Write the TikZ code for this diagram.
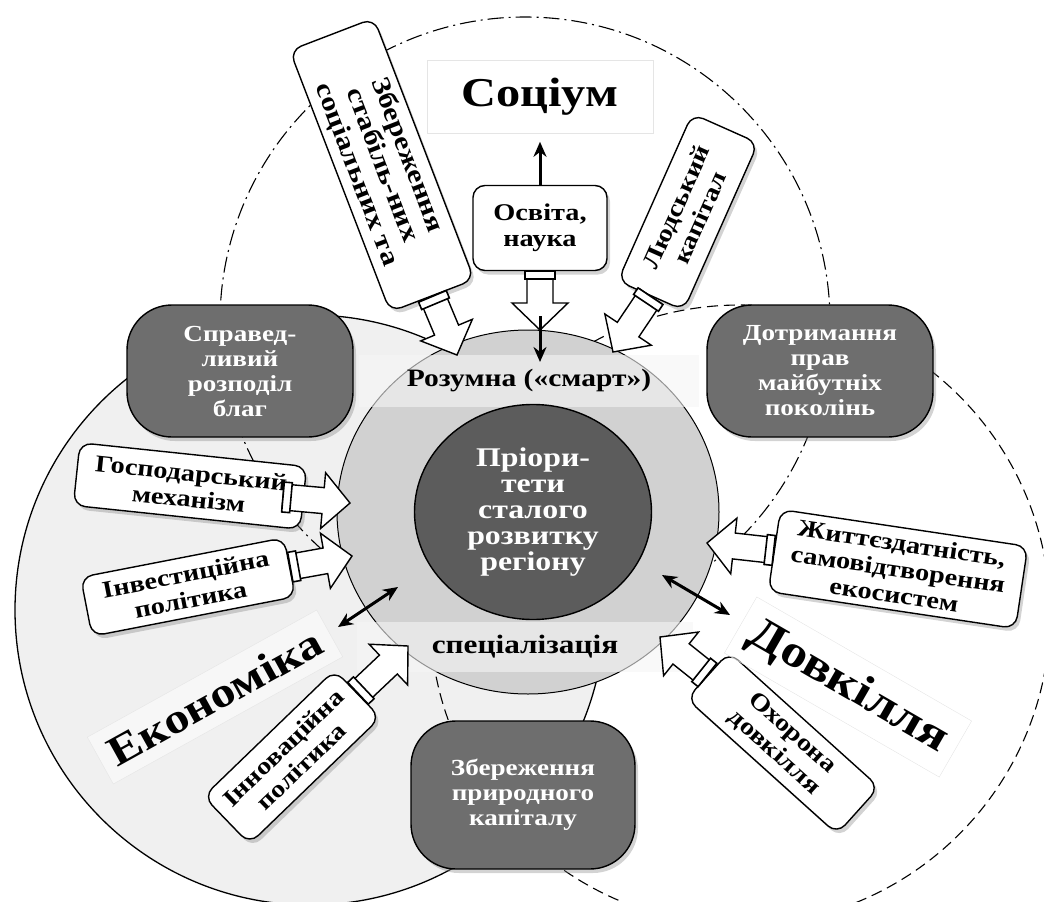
\documentclass[tikz,border=0pt]{standalone}
\usepackage{fontspec}
\setmainfont{Liberation Serif}[FakeStretch=1.18]
\usetikzlibrary{calc, arrows.meta, shadows, positioning, shapes.geometric}

\definecolor{econgray}{gray}{0.94}
\definecolor{smartgray}{gray}{0.82}
\definecolor{coregray}{gray}{0.36}
\definecolor{boxgray}{gray}{0.43}

% hollow block arrow from #1 to #2, with a cap band at its tail
\newcommand{\hollowarrow}[2]{%
  \path ($(#2)!27pt!(#1)$) coordinate (hb) ($(#1)!8pt!(#2)$) coordinate (bt);
  \draw[hollow] ($(#1)!13pt!90:(#2)$) -- ($(hb)!13pt!90:(#2)$) -- ($(hb)!28pt!90:(#2)$) -- (#2)
    -- ($(hb)!28pt!-90:(#2)$) -- ($(hb)!13pt!-90:(#2)$) -- ($(#1)!13pt!-90:(#2)$) -- cycle;
  \draw[capband] ($(#1)!15pt!90:(#2)$) -- ($(bt)!15pt!90:(#2)$) -- ($(bt)!15pt!-90:(#2)$)
    -- ($(#1)!15pt!-90:(#2)$) -- cycle;
}

\begin{document}
\begin{tikzpicture}[x=1pt, y=-1pt, >={Stealth[length=15pt, width=13pt]},
    every node/.style={font=\bfseries},
    darkbox/.style={draw, line width=1.4pt, fill=boxgray, text=white, rounded corners=45pt,
      align=center, minimum width=226pt, minimum height=132pt,
      drop shadow={opacity=0.35, shadow xshift=3pt, shadow yshift=-4pt},
      font=\fontsize{23}{25}\selectfont\bfseries},
    whitebox/.style={draw, line width=1.4pt, fill=white, rounded corners=12pt, align=center,
      inner sep=2pt, drop shadow={opacity=0.35, shadow xshift=3pt, shadow yshift=-4pt},
      font=\fontsize{24}{26}\selectfont\bfseries},
    band/.style={fill=gray!8, fill opacity=0.6, text opacity=1, inner sep=0pt},
    region/.style={draw=gray!20, fill=white, fill opacity=0.5, text opacity=1, inner sep=12pt},
    hollow/.style={draw, line width=1.4pt, fill=white, line join=miter},
    capband/.style={draw, line width=1.6pt, fill=white},
    pointer/.style={line width=3pt}]
    \useasboundingbox (0,0) rectangle (1044,902);

    % three spheres
    \draw[line width=1.3pt, fill=econgray] (310,610) circle[radius=295];
    \draw[line width=1.1pt, dash pattern=on 16pt off 5pt on 2pt off 5pt] (525,322) circle[radius=305];
    \draw[line width=1.1pt, dash pattern=on 11pt off 6pt] (740,615) circle[radius=310];

    % smart specialisation and its core
    \node[ellipse, draw, line width=1pt, fill=smartgray, minimum width=382pt, minimum height=364pt]
      (smart) at (528,512) {};
    \node[band, minimum width=340pt, minimum height=52pt, font=\fontsize{25}{25}\selectfont\bfseries]
      (smarttop) at (529,381) {Розумна («смарт»)};
    \node[band, minimum width=336pt, minimum height=50pt, font=\fontsize{26.5}{26.5}\selectfont\bfseries]
      (smartbot) at (525,647) {спеціалізація};
    \node[ellipse, draw, line width=1.4pt, fill=coregray, text=white, minimum width=237pt,
      minimum height=215pt, inner sep=0pt, align=center, font=\fontsize{27}{26}\selectfont\bfseries]
      (core) at (533,512) {Пріори-\\тети\\сталого\\розвитку\\регіону};

    % dark goal boxes
    \node[darkbox] (fair) at (240,371) {Справед-\\ливий\\розподіл\\благ};
    \node[darkbox] (future) at (820,371) {Дотримання\\прав\\майбутніх\\поколінь};
    \node[darkbox, minimum width=224pt, minimum height=148pt] (natcap) at (523,795)
      {Збереження\\природного\\капіталу};

    % factor boxes
    \node[whitebox, minimum width=134pt, minimum height=85pt] (osvita) at (540,228) {Освіта,\\наука};
    \node[whitebox, rotate=-69, minimum width=280pt, minimum height=90pt,
      font=\fontsize{26}{27}\selectfont\bfseries] (stab) at (382,165)
      {Збереження\\стабіль-них\\соціальних та};
    \node[whitebox, rotate=66, minimum width=183pt, minimum height=72pt] (human) at (688,212)
      {Людський\\капітал};
    \node[whitebox, rotate=-6, minimum width=228pt, minimum height=63pt] (mech) at (190,486)
      {Господарський\\механізм};
    \node[whitebox, rotate=11, minimum width=207pt, minimum height=60pt] (invest) at (188,587)
      {Інвестиційна\\політика};
    \node[whitebox, rotate=44, minimum width=182pt, minimum height=66pt] (innov) at (292,757)
      {Інноваційна\\політика};
    \node[whitebox, rotate=-8.5, minimum width=250pt, minimum height=83pt] (viab) at (898,569)
      {Життєздатність,\\самовідтворення\\екосистем};
    \node[whitebox, rotate=-42, minimum width=202pt, minimum height=63pt] (protect) at (783,743)
      {Охорона\\довкілля};

    % sphere names
    \node[region, above=51pt of osvita, minimum width=226pt, minimum height=73pt,
      font=\fontsize{41}{41}\selectfont\bfseries] (soclabel) {Соціум};
    \node[region, rotate=29, font=\fontsize{42}{42}\selectfont\bfseries] (econlabel) at (215,697) {Економіка};
    \node[region, rotate=-30, font=\fontsize{45}{45}\selectfont\bfseries] (envlabel) at (848,687) {Довкілля};

    % arrow ends on the ring
    \coordinate (t1) at (457,355);
    \coordinate (t2) at (540,330);
    \coordinate (t3) at (613,352);
    \coordinate (s4) at (283,497);
    \coordinate (t4) at (350,503);
    \coordinate (t5) at (352,556);
    \coordinate (t6) at (408,646);
    \coordinate (t7) at (707,543);
    \coordinate (t8) at (660,637);

    % flows into the ring
    \hollowarrow{stab.east}{t1}
    \hollowarrow{osvita.south}{t2}
    \hollowarrow{human.west}{t3}
    \hollowarrow{s4}{t4}
    \hollowarrow{invest.east}{t5}
    \hollowarrow{innov.east}{t6}
    \hollowarrow{viab.west}{t7}
    \hollowarrow{protect.west}{t8}

    % thin arrows
    \coordinate (k1) at (540,316);
    \coordinate (k2) at (540,362);
    \coordinate (e1) at (338,627);
    \coordinate (e2) at (398,587);
    \coordinate (v1) at (662,575);
    \coordinate (v2) at (730,615);
    \draw[pointer, ->, shorten >=8pt] (osvita.north) -- (osvita.north |- soclabel.south);
    \draw[pointer, ->] (k1) -- (k2);
    \draw[pointer, <->] (e1) -- (e2);
    \draw[pointer, <->] (v1) -- (v2);
\end{tikzpicture}
\end{document}
